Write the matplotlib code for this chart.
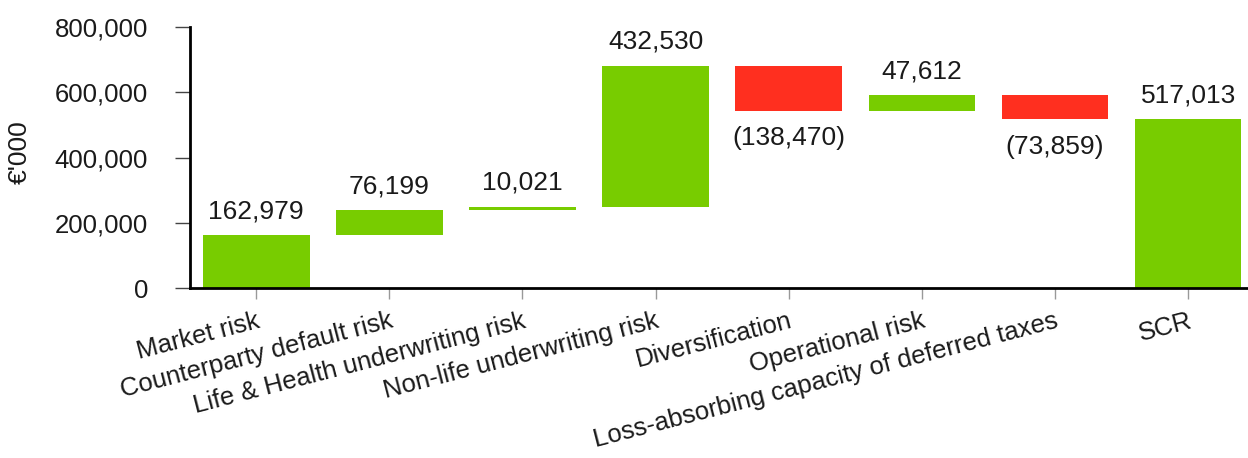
import matplotlib
matplotlib.use("Agg")
import matplotlib.pyplot as plt
import numpy as np
from matplotlib.ticker import FuncFormatter

categories = [
    "Market risk",
    "Counterparty default risk",
    "Life & Health underwriting risk",
    "Non-life underwriting risk",
    "Diversification",
    "Operational risk",
    "Loss-absorbing capacity of deferred taxes",
    "SCR",
]
changes = [162979, 76199, 10021, 432530, -138470, 47612, -73859]
total = 517013
yticks = [0, 200000, 400000, 600000, 800000]

GREEN = "#78cc00"
RED = "#ff2f1f"
TEXT = "#1a1a1a"

plt.rcParams["font.family"] = ["Liberation Sans", "DejaVu Sans"]

fig = plt.figure(figsize=(12.48, 4.58), dpi=100)
ax = fig.add_axes([0.152, 0.371, 0.848, 0.570])

x = np.arange(len(categories))
bases = np.concatenate([[0], np.cumsum(changes)[:-1]])

for i, (b, v) in enumerate(zip(bases, changes)):
    color = GREEN if v >= 0 else RED
    ax.bar(x[i], v, bottom=b, width=0.8, color=color, edgecolor="none")
    if v >= 0:
        ax.annotate(f"{v:,}", (x[i], b + v), xytext=(0, 8.5), textcoords="offset points",
                    ha="center", va="bottom", fontsize=19, color=TEXT)
    else:
        ax.annotate(f"({-v:,})", (x[i], b + v), xytext=(0, -11), textcoords="offset points",
                    ha="center", va="top", fontsize=19, color=TEXT)

ax.bar(x[-1], total, width=0.8, color=GREEN, edgecolor="none")
ax.annotate(f"{total:,}", (x[-1], total), xytext=(0, 8.5), textcoords="offset points",
            ha="center", va="bottom", fontsize=19, color=TEXT)

ax.set_xlim(-0.5, 7.45)
ax.set_ylim(0, 800000)
ax.set_yticks(yticks)
ax.yaxis.set_major_formatter(FuncFormatter(lambda v, p: f"{int(v):,}"))
ax.set_xticks(x)
ax.set_xticklabels(categories, rotation=14.5, ha="right", rotation_mode="anchor")

for s in ["top", "right"]:
    ax.spines[s].set_visible(False)
for s in ["left", "bottom"]:
    ax.spines[s].set_linewidth(2)
    ax.spines[s].set_color("black")

ax.tick_params(axis="y", length=11, width=1, color="#444444", labelsize=18.5,
               labelcolor=TEXT, pad=19)
ax.tick_params(axis="x", length=8, width=1, color="#999999", labelsize=18.5,
               labelcolor=TEXT, pad=7)

ax.set_ylabel("€'000", fontsize=19, color=TEXT)
ax.yaxis.set_label_coords(-0.149, 0.52)

fig.savefig("out.png", dpi=100)
